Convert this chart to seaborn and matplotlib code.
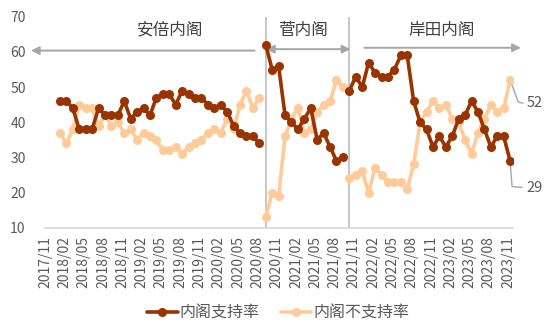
import matplotlib
matplotlib.use("Agg")
import matplotlib.pyplot as plt
from matplotlib.lines import Line2D
import seaborn as sns
import pandas as pd

# ---- data ----
axis_months = [str(p).replace("-", "/") for p in pd.period_range("2017-11", "2023-11", freq="M")]
tick_labels = axis_months[::3]

abe_months = [str(p).replace("-", "/") for p in pd.period_range("2018-01", "2020-08", freq="M")]
suga_months = [str(p).replace("-", "/") for p in pd.period_range("2020-09", "2021-09", freq="M")]
kishida_months = [str(p).replace("-", "/") for p in pd.period_range("2021-10", "2023-11", freq="M")]

abe_support = [46, 46, 44, 38, 38, 38, 44, 42, 42, 42, 46, 41, 43, 44, 42, 47,
               48, 48, 45, 49, 48, 47, 47, 45, 44, 45, 43, 39, 37, 36, 36, 34]
abe_oppose = [37, 34, 38, 45, 44, 44, 39, 42, 39, 40, 37, 38, 35, 37, 36, 35,
              32, 32, 33, 31, 33, 34, 35, 37, 38, 37, 41, 38, 45, 49, 44, 47]
suga_support = [62, 55, 56, 42, 40, 38, 41, 44, 35, 37, 33, 29, 30]
suga_oppose = [13, 20, 19, 36, 41, 44, 37, 38, 43, 45, 46, 52, 50]
kishida_support = [49, 53, 50, 57, 54, 53, 53, 55, 59, 59, 46, 40, 38, 33, 36, 33,
                   36, 41, 42, 46, 43, 38, 33, 36, 36, 29]
kishida_oppose = [24, 25, 26, 20, 27, 25, 23, 23, 23, 21, 28, 40, 43, 46, 44, 45,
                  41, 40, 35, 31, 37, 41, 45, 43, 44, 52]

cabinets = ["安倍内阁", "菅内阁", "岸田内阁"]
series_names = ["内阁支持率", "内阁不支持率"]

# ---- build long table ----
rows = []
for cab, months, sup, opp in [(cabinets[0], abe_months, abe_support, abe_oppose),
                              (cabinets[1], suga_months, suga_support, suga_oppose),
                              (cabinets[2], kishida_months, kishida_support, kishida_oppose)]:
    for m, s, o in zip(months, sup, opp):
        idx = axis_months.index(m)
        rows.append(dict(idx=idx, val=s, series=series_names[0], seg=cab))
        rows.append(dict(idx=idx, val=o, series=series_names[1], seg=cab))
df = pd.DataFrame(rows)

dark = "#993300"
light = "#FFCC99"
gray_txt = "#595959"
arrow_c = "#A6A6A6"

sns.set_style("white")
plt.rcParams["font.family"] = ["Noto Sans CJK SC", "DejaVu Sans"]

fig = plt.figure(figsize=(5.5, 3.3), dpi=100)
ax = fig.add_axes([0.082, 0.31, 0.851, 0.639])

sns.lineplot(data=df, x="idx", y="val", hue="series", units="seg", estimator=None,
             palette={series_names[0]: dark, series_names[1]: light},
             hue_order=[series_names[1], series_names[0]],
             marker="o", markersize=6.5, markeredgewidth=0, linewidth=2.6,
             legend=False, ax=ax, zorder=3)

# cabinet dividers
ax.vlines([34, 47], 10, 70, color="#C8C8C8", lw=1.5, zorder=1)

# arrows
ax.annotate("", xy=(-2.95, 60.4), xytext=(32.7, 60.4),
            arrowprops=dict(arrowstyle="-|>", color=arrow_c, lw=1.4, mutation_scale=12),
            annotation_clip=False, zorder=2)
ax.annotate("", xy=(33.6, 60.8), xytext=(47.6, 60.8),
            arrowprops=dict(arrowstyle="<|-|>", color=arrow_c, lw=1.4, mutation_scale=12),
            annotation_clip=False, zorder=2)
ax.annotate("", xy=(74.1, 61.2), xytext=(48.9, 61.2),
            arrowprops=dict(arrowstyle="-|>", color=arrow_c, lw=1.4, mutation_scale=12),
            annotation_clip=False, zorder=2)

# cabinet labels
ax.text(19.1, 66.2, cabinets[0], ha="center", va="center", fontsize=12, color="#404040")
ax.text(39.8, 66.2, cabinets[1], ha="center", va="center", fontsize=12, color="#404040")
ax.text(61.3, 66.0, cabinets[2], ha="center", va="center", fontsize=12, color="#404040")

# end labels with leader lines
last_opp = kishida_oppose[-1]
last_sup = kishida_support[-1]
ax.plot([72, 73.25, 74.0], [last_opp, 45.8, 45.4], color=arrow_c, lw=1, clip_on=False, zorder=2)
ax.text(74.6, 45.4, str(last_opp), ha="left", va="center", fontsize=10.5, color=gray_txt)
ax.plot([72, 72.3, 73.85], [last_sup, 21.7, 21.5], color=arrow_c, lw=1, clip_on=False, zorder=2)
ax.text(74.5, 21.3, str(last_sup), ha="left", va="center", fontsize=10.5, color=gray_txt)

# axes styling
ax.set_xlim(-0.31, 72.47)
ax.set_ylim(10, 70)
ax.set_yticks(range(10, 71, 10))
ax.set_xticks([i - 0.3 for i in range(0, 73, 3)])
ax.set_xticklabels(tick_labels, rotation=90)
ax.set_xlabel("")
ax.set_ylabel("")
for s in ["top", "right", "left"]:
    ax.spines[s].set_visible(False)
ax.spines["bottom"].set_color("#D9D9D9")
ax.spines["bottom"].set_linewidth(1.2)
ax.tick_params(axis="x", length=4, width=1, color="#D9D9D9", labelsize=10, labelcolor=gray_txt, pad=2)
ax.tick_params(axis="y", length=0, labelsize=10, labelcolor=gray_txt, pad=14)
ax.grid(False)

handles = [Line2D([0], [0], color=dark, lw=2.6, marker="o", ms=6.5, mew=0),
           Line2D([0], [0], color=light, lw=2.6, marker="o", ms=6.5, mew=0)]
leg = fig.legend(handles, series_names, loc="center", bbox_to_anchor=(0.506, 0.052), ncol=2,
                 frameon=False, fontsize=11.5, handlelength=1.9, columnspacing=1.3,
                 handletextpad=0.15)
for t in leg.get_texts():
    t.set_color(gray_txt)

fig.savefig("out.png", dpi=100)
